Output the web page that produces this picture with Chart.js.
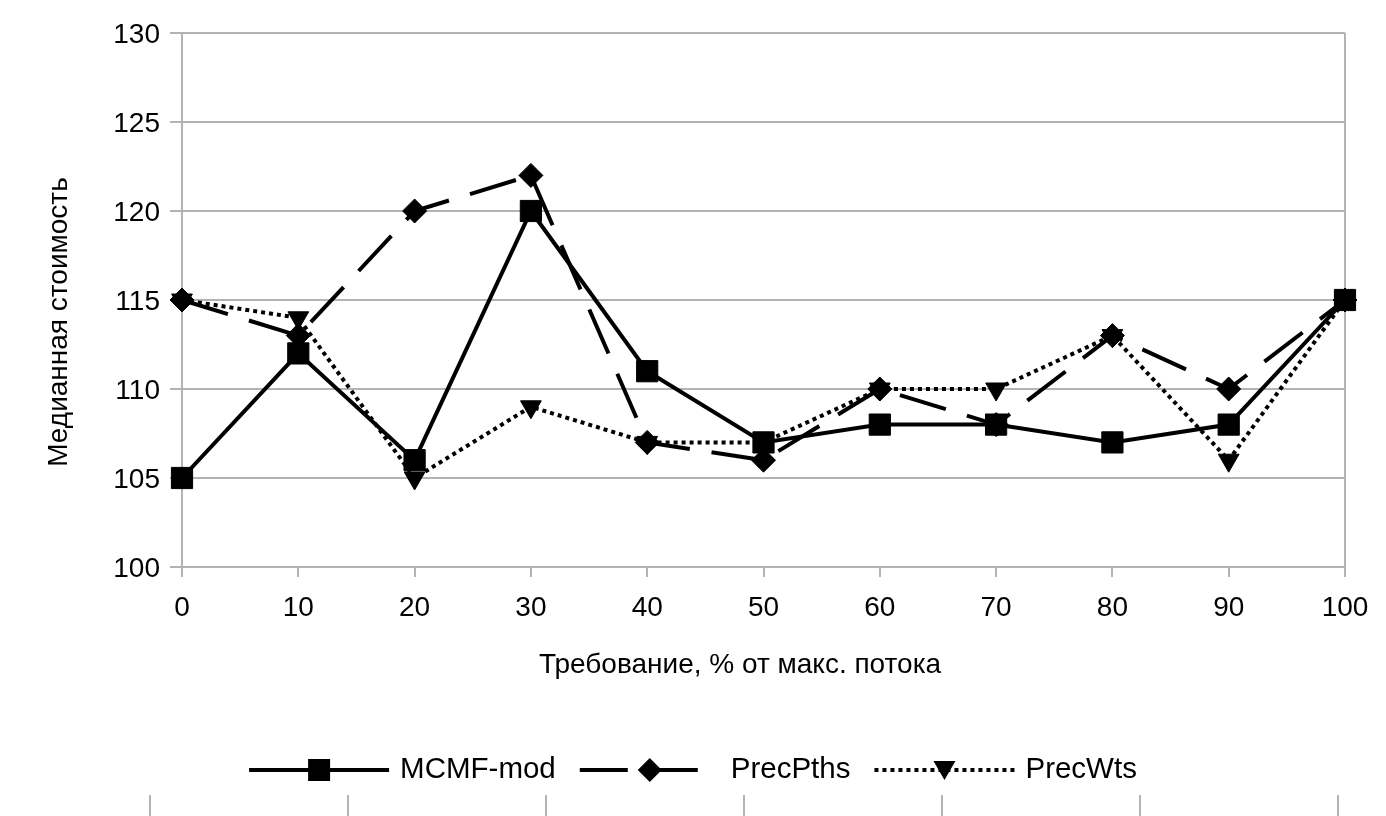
<!DOCTYPE html>
<html>
<head>
<meta charset="utf-8">
<script src="https://cdn.jsdelivr.net/npm/chart.js@4.4.1/dist/chart.umd.min.js"></script>
<style>
  html, body { margin: 0; padding: 0; background: #fff; }
  #wrap { width: 1386px; height: 816px; position: relative; }
</style>
</head>
<body>
<div id="wrap"><canvas id="chart"></canvas></div>
<script>
// Demand levels, % of max flow
const categories = ['0', '10', '20', '30', '40', '50', '60', '70', '80', '90', '100'];

// Median cost per method
const mcmfMod = [105, 112, 106, 120, 111, 107, 108, 108, 107, 108, 115];
const precPths = [115, 113, 120, 122, 107, 106, 110, 108, 113, 110, 115];
const precWts = [115, 114, 105, 109, 107, 107, 110, 110, 113, 106, 115];

const seriesNames = ['MCMF-mod', 'PrecPths', 'PrecWts'];
const xTitle = 'Требование, % от макс. потока';
const yTitle = 'Медианная стоимость';

const FONT = '"Liberation Sans", Arial, sans-serif';
const GRID = '#b3b3b3';

// Draws a marker shape for the custom legend
function drawMarker(ctx, style, x, y) {
    ctx.beginPath();
    if (style === 'rect') {
        ctx.rect(x - 11, y - 11, 22, 22);
    } else if (style === 'rectRot') {
        ctx.moveTo(x, y - 12);
        ctx.lineTo(x + 12, y);
        ctx.lineTo(x, y + 12);
        ctx.lineTo(x - 12, y);
        ctx.closePath();
    } else {
        ctx.moveTo(x - 11, y - 9);
        ctx.lineTo(x + 11, y - 9);
        ctx.lineTo(x, y + 10);
        ctx.closePath();
    }
    ctx.fillStyle = '#000';
    ctx.fill();
}

// Axis titles are placed by hand: the original sits them off the plot centre
const axisTitles = {
    id: 'axisTitles',
    afterDraw(chart) {
        const ctx = chart.ctx;
        ctx.save();
        ctx.fillStyle = '#000';
        ctx.font = '28px ' + FONT;
        ctx.textAlign = 'center';
        ctx.textBaseline = 'middle';
        ctx.fillText(xTitle, 740, 665);
        ctx.translate(59, 322);
        ctx.rotate(-Math.PI / 2);
        ctx.fillText(yTitle, 0, 0);
        ctx.restore();
    }
};

// Legend with line sample + marker, centred under the plot
const lineLegend = {
    id: 'lineLegend',
    afterDraw(chart) {
        const ctx = chart.ctx;
        const sample = 140, textGap = 11, itemGap = 24;
        const y = 770;
        ctx.save();
        ctx.font = '29.5px ' + FONT;
        const items = chart.data.datasets.map(ds => ({
            ds, w: sample + textGap + ctx.measureText(ds.label).width
        }));
        const total = items.reduce((s, it) => s + it.w, 0) + itemGap * (items.length - 1);
        let x = (chart.width - total) / 2;
        items.forEach(it => {
            ctx.strokeStyle = '#000';
            ctx.lineWidth = it.ds.borderWidth;
            ctx.setLineDash(it.ds.borderDash || []);
            ctx.beginPath();
            ctx.moveTo(x, y);
            ctx.lineTo(x + sample, y);
            ctx.stroke();
            ctx.setLineDash([]);
            drawMarker(ctx, it.ds.pointStyle, x + sample / 2, y);
            ctx.fillStyle = '#000';
            ctx.textBaseline = 'middle';
            ctx.textAlign = 'left';
            ctx.fillText(it.ds.label, x + sample + textGap, y);
            x += it.w + itemGap;
        });

        // light separator ticks along the bottom edge
        ctx.strokeStyle = GRID;
        ctx.lineWidth = 2;
        const step = chart.width / 7;
        for (let i = 0; i < 7; i++) {
            const lx = Math.round(150 + i * step);
            ctx.beginPath();
            ctx.moveTo(lx, 795);
            ctx.lineTo(lx, chart.height);
            ctx.stroke();
        }
        ctx.restore();
    }
};

const lastIndex = categories.length - 1;

new Chart(document.getElementById('chart'), {
    type: 'line',
    data: {
        labels: categories,
        datasets: [
            {
                label: seriesNames[0],
                data: mcmfMod,
                borderColor: '#000',
                backgroundColor: '#000',
                borderWidth: 4,
                pointStyle: 'rect',
                pointRadius: 15,
                pointBorderWidth: 1,
                tension: 0
            },
            {
                label: seriesNames[1],
                data: precPths,
                borderColor: '#000',
                backgroundColor: '#000',
                borderWidth: 4,
                borderDash: [48, 22],
                pointStyle: 'rectRot',
                pointRadius: 12,
                pointBorderWidth: 1,
                tension: 0
            },
            {
                label: seriesNames[2],
                data: precWts,
                borderColor: '#000',
                backgroundColor: '#000',
                borderWidth: 4,
                borderDash: [4, 4],
                pointStyle: 'triangle',
                rotation: 180,
                pointRadius: 12,
                pointBorderWidth: 1,
                tension: 0
            }
        ]
    },
    options: {
        responsive: true,
        maintainAspectRatio: false,
        animation: false,
        layout: {
            padding: { top: 33, right: 41, left: 0, bottom: 0 }
        },
        plugins: {
            legend: { display: false },
            tooltip: { enabled: false }
        },
        scales: {
            x: {
                offset: false,
                afterFit: (scale) => { scale.height = 249; },
                grid: {
                    color: (c) => (c.index === 0 || c.index === lastIndex) ? GRID : 'transparent',
                    tickColor: GRID,
                    lineWidth: 2,
                    tickLength: 10
                },
                border: { display: false },
                ticks: {
                    color: '#000',
                    font: { family: FONT, size: 28 },
                    padding: 14,
                    maxRotation: 0
                },
                title: { display: false }
            },
            y: {
                min: 100,
                max: 130,
                afterFit: (scale) => { scale.width = 182; },
                grid: {
                    color: GRID,
                    lineWidth: 2,
                    tickLength: 12
                },
                border: { display: true, color: GRID, width: 2 },
                ticks: {
                    stepSize: 5,
                    color: '#000',
                    font: { family: FONT, size: 28 },
                    padding: 10,
                    labelOffset: 2
                },
                title: { display: false }
            }
        }
    },
    plugins: [lineLegend, axisTitles]
});
</script>
</body>
</html>
